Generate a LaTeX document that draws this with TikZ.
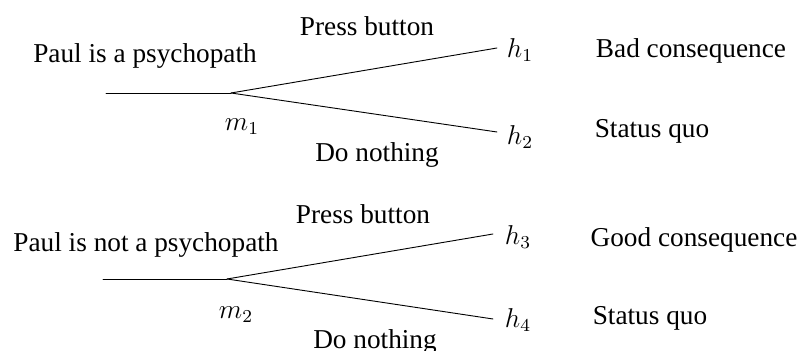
\documentclass[12pt,tikz,border=0pt]{standalone}
\usepackage{fontspec}
\setmainfont{Liberation Serif}
\begin{document}
\begin{tikzpicture}[x=0.44pt,y=-0.44pt,font=\rmfamily,
    branch/.style ={thin, line cap=round},
    lbl/.style ={inner sep=0pt}]
   \useasboundingbox (0,0) rectangle (807,351);
   % upper tree
   \coordinate (s1) at (106,93);
   \coordinate (m1) at (231,93);
   \coordinate (e1) at (497,48);
   \coordinate (e2) at (497,132);
   \node[lbl] (p1) at (145,56) {Paul is a psychopath};
   \node[lbl] (nm1) at (242,127) {$m_1$};
   \node[lbl] (b1) at (367,26) {Press button};
   \node[lbl] (d1) at (377,155) {Do nothing};
   \node[lbl] (h1) at (520,50) {$h_1$};
   \node[lbl] (h2) at (520,137) {$h_2$};
   \node[lbl] (c1) at (691,51) {Bad consequence};
   \node[lbl] (c2) at (652,131) {Status quo};
   \draw[branch] (s1) -- (m1);
   \draw[branch] (m1) -- (e1);
   \draw[branch] (m1) -- (e2);
   % lower tree
   \coordinate (s2) at (103,279);
   \coordinate (m2) at (227,279);
   \coordinate (e3) at (493,234);
   \coordinate (e4) at (493,319);
   \node[lbl] (p2) at (146,245) {Paul is not a psychopath};
   \node[lbl] (nm2) at (236,315) {$m_2$};
   \node[lbl] (b2) at (363,214) {Press button};
   \node[lbl] (d2) at (375,342) {Do nothing};
   \node[lbl] (h3) at (518,237) {$h_3$};
   \node[lbl] (h4) at (518,320) {$h_4$};
   \node[lbl] (c3) at (694,240) {Good consequence};
   \node[lbl] (c4) at (650,318) {Status quo};
   \draw[branch] (s2) -- (m2);
   \draw[branch] (m2) -- (e3);
   \draw[branch] (m2) -- (e4);
 \end{tikzpicture}
\end{document}
